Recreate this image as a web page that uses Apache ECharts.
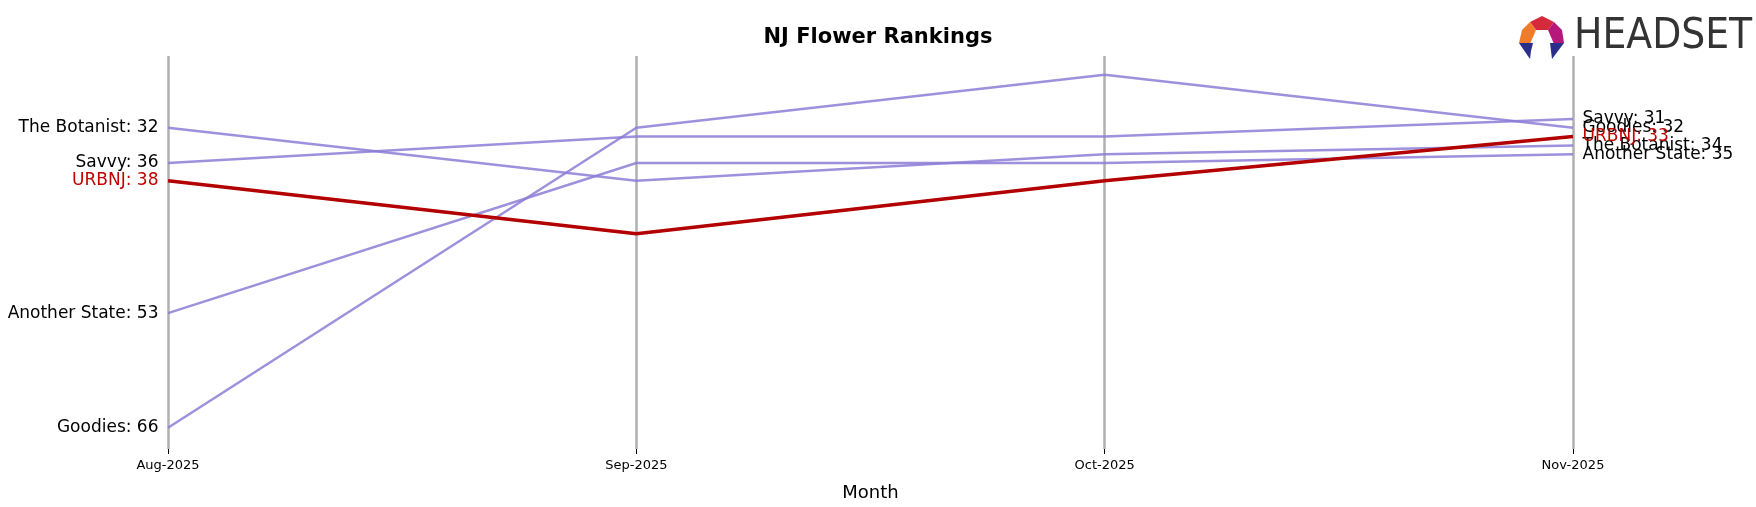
<!DOCTYPE html>
<html>
<head>
<meta charset="UTF-8">
<title>NJ Flower Rankings</title>
<script src="https://cdn.jsdelivr.net/npm/echarts@6/dist/echarts.min.js"></script>
</head>
<body style="margin:0">
<div id="main" style="width:1756px;height:507px;"></div>
<script>
// data
var months = ['Aug-2025', 'Sep-2025', 'Oct-2025', 'Nov-2025'];
var brands = ['The Botanist', 'Savvy', 'URBNJ', 'Another State', 'Goodies'];
var botanist = [32, 38, 35, 34];
var savvy = [36, 33, 33, 31];
var urbnj = [38, 44, 38, 33];
var anotherState = [53, 36, 36, 35];
var goodies = [66, 32, 26, 32];
var values = [botanist, savvy, urbnj, anotherState, goodies];
var highlight = 'URBNJ';

var chart = echarts.init(document.getElementById('main'));

var series = brands.map(function (name, i) {
    var hi = name === highlight;
    var col = hi ? '#c00000' : '#000';
    var data = values[i].map(function (v, j) {
        var d = { value: v };
        if (j === 0 || j === values[i].length - 1) {
            d.label = {
                show: true,
                position: j === 0 ? 'left' : 'right',
                distance: 9,
                formatter: name + ': ' + v,
                color: col,
                fontSize: 17,
                fontFamily: 'DejaVu Sans'
            };
        }
        return d;
    });
    return {
        name: name,
        type: 'line',
        data: data,
        symbol: 'circle',
        symbolSize: 1,
        showSymbol: true,
        itemStyle: { color: 'rgba(0,0,0,0)', borderWidth: 0 },
        z: hi ? 5 : 3,
        lineStyle: { color: hi ? '#b30000' : '#8d7dd6', width: hi ? 3.5 : 2.5, opacity: hi ? 1 : 0.85 },
        label: { show: false }
    };
});

var option = {
    animation: false,
    title: {
        text: 'NJ Flower Rankings',
        left: 'center', top: 22,
        textStyle: { fontSize: 21, fontWeight: 'bold', color: '#000', fontFamily: 'DejaVu Sans' }
    },
    grid: { left: 168, right: 183, top: 56, bottom: 54 },
    xAxis: {
        type: 'category',
        data: months,
        boundaryGap: false,
        name: 'Month',
        nameLocation: 'middle',
        nameGap: 35,
        nameTextStyle: { fontSize: 18, color: '#000', fontFamily: 'DejaVu Sans' },
        axisLine: { show: false },
        axisTick: { show: true, length: 5, lineStyle: { color: '#000' } },
        axisLabel: { color: '#000', fontSize: 13, margin: 10, fontFamily: 'DejaVu Sans' },
        splitLine: { show: true, lineStyle: { color: '#b0b0b0', width: 2.5 } }
    },
    yAxis: {
        type: 'value', inverse: true, min: 23.87, max: 68.4,
        show: false, splitLine: { show: false }
    },
    graphic: [
        { type: 'polygon', shape: { points: [[1530, 22], [1542, 16], [1554, 22], [1548, 30], [1536, 30]] }, style: { fill: '#d42a3c' } },
        { type: 'polygon', shape: { points: [[1522, 30], [1530, 22], [1536, 30], [1530, 44], [1519, 43]] }, style: { fill: '#f07b2a' } },
        { type: 'polygon', shape: { points: [[1554, 22], [1562, 30], [1564, 43], [1554, 44], [1548, 30]] }, style: { fill: '#b5177a' } },
        { type: 'polygon', shape: { points: [[1519, 43], [1533, 43], [1531, 51], [1530, 59]] }, style: { fill: '#2a2f8a' } },
        { type: 'polygon', shape: { points: [[1550, 43], [1564, 43], [1552, 59]] }, style: { fill: '#2a2f8a' } },
        { type: 'text', left: 1574, top: 16, style: { text: 'HEADSET', font: '42px "Liberation Sans Narrow", "DejaVu Sans Condensed", sans-serif', fill: '#333' } }
    ],
    series: series
};
chart.setOption(option);
</script>
</body>
</html>
